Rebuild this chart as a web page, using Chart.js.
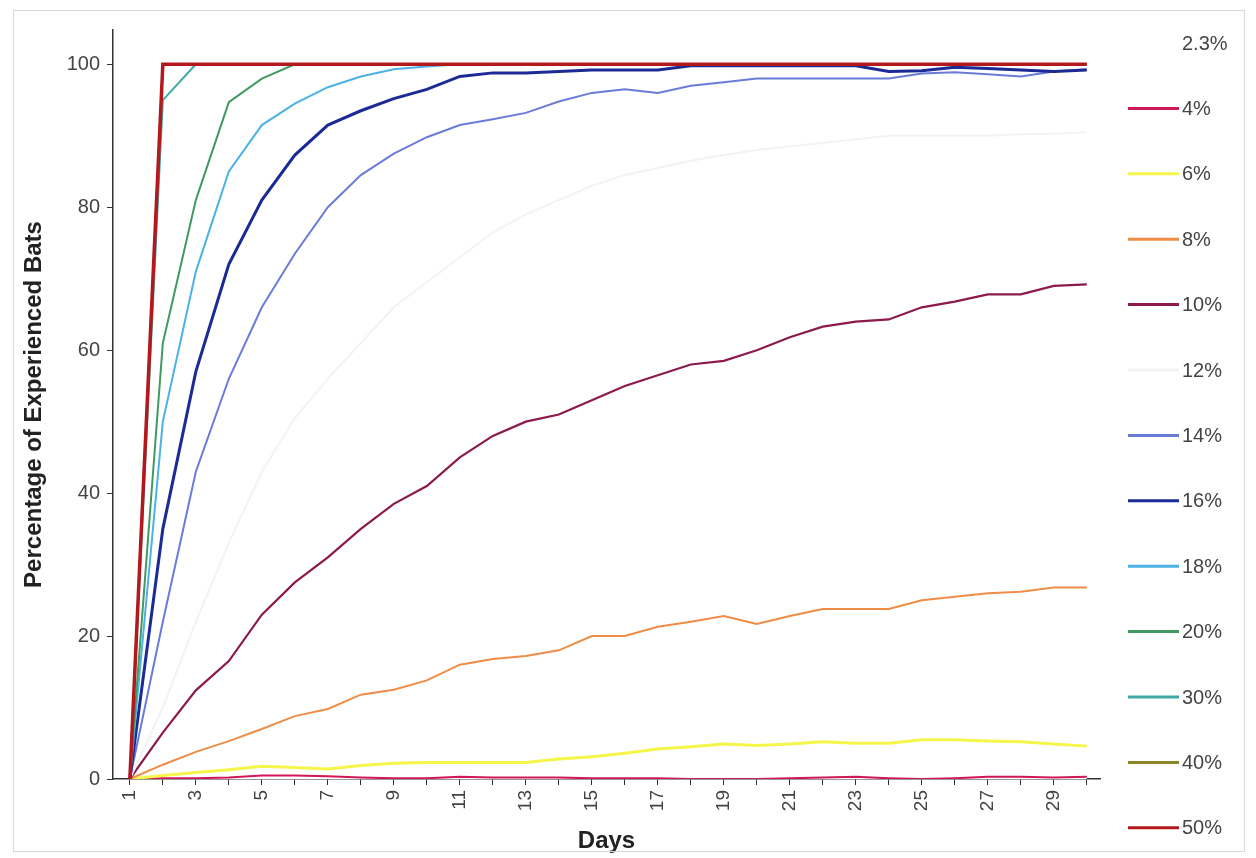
<!DOCTYPE html>
<html>
<head>
<meta charset="utf-8">
<script src="https://cdn.jsdelivr.net/npm/chart.js@4/dist/chart.umd.min.js"></script>
<style>
  html, body { margin: 0; padding: 0; background: #ffffff; }
  #wrap { position: relative; width: 1256px; height: 858px; }
  canvas { display: block; }
</style>
</head>
<body>
<div id="wrap"><canvas id="c" width="1256" height="858"></canvas></div>
<script>
// ---- Data ----
const days = [1,2,3,4,5,6,7,8,9,10,11,12,13,14,15,16,17,18,19,20,21,22,23,24,25,26,27,28,29,30];
const xTickLabels = [1,3,5,7,9,11,13,15,17,19,21,23,25,27,29];
const yTickLabels = [0,20,40,60,80,100];
const seriesNames = ['2.3%','4%','6%','8%','10%','12%','14%','16%','18%','20%','30%','40%','50%'];

const s2_3 = [0,0,0,0,0,0,0,0,0,0,0,0,0,0,0,0,0,0,0,0,0,0,0,0,0,0,0,0,0,0];
const s4   = [0,0.1,0.1,0.2,0.5,0.5,0.4,0.2,0.1,0.1,0.3,0.2,0.2,0.2,0.1,0.1,0.1,0,0,0,0.1,0.2,0.3,0.1,0,0.1,0.3,0.3,0.2,0.3];
const s6   = [0,0.5,0.9,1.3,1.8,1.6,1.4,1.9,2.2,2.3,2.3,2.3,2.3,2.8,3.1,3.6,4.2,4.5,4.9,4.7,4.9,5.2,5.0,5.0,5.5,5.5,5.3,5.2,4.9,4.6];
const s8   = [0,2,3.8,5.3,7,8.8,9.8,11.8,12.5,13.8,16,16.8,17.2,18,20,20,21.3,22,22.8,21.7,22.8,23.8,23.8,23.8,25,25.5,26,26.2,26.8,26.8];
const s10  = [0,6.5,12.4,16.5,23,27.5,31,35,38.5,41,45,48,50,51,53,55,56.5,58,58.5,60,61.8,63.3,64,64.3,66,66.8,67.8,67.8,69,69.2];
const s12  = [0,10,22,33,43,50.5,56,61,66,69.5,73,76.5,79,81,83,84.5,85.5,86.5,87.3,88,88.5,89,89.5,90,90,90,90,90.2,90.3,90.5];
const s14  = [0,22,43,56,66,73.5,80,84.5,87.5,89.8,91.5,92.3,93.2,94.8,96,96.5,96,97,97.5,98,98,98,98,98,98.7,98.9,98.6,98.3,99,99.3];
const s16  = [0,35,57,72,81,87.3,91.5,93.5,95.2,96.5,98.3,98.8,98.8,99,99.2,99.2,99.2,99.8,99.8,99.8,99.8,99.8,99.8,99,99.1,99.6,99.4,99.2,99,99.2];
const s18  = [0,50,71,85,91.5,94.5,96.8,98.3,99.3,99.7,100,100,100,100,100,100,100,100,100,100,100,100,100,100,100,100,100,100,100,100];
const s20  = [0,61,81,94.7,98,100,100,100,100,100,100,100,100,100,100,100,100,100,100,100,100,100,100,100,100,100,100,100,100,100];
const s30  = [0,95,100,100,100,100,100,100,100,100,100,100,100,100,100,100,100,100,100,100,100,100,100,100,100,100,100,100,100,100];
const s40  = [0,100,100,100,100,100,100,100,100,100,100,100,100,100,100,100,100,100,100,100,100,100,100,100,100,100,100,100,100,100];
const s50  = [0,100,100,100,100,100,100,100,100,100,100,100,100,100,100,100,100,100,100,100,100,100,100,100,100,100,100,100,100,100];

const seriesValues = [s2_3, s4, s6, s8, s10, s12, s14, s16, s18, s20, s30, s40, s50];
const seriesColors = ['#ffffff','#d0175a','#f6f64a','#ef8c45','#8c1a4c','#f3f3f3','#6a7bd8','#1b2a94','#4cb2e6','#3f9a62','#3fa9a6','#8a8526','#b3181c'];
const seriesWidths = [2,2,3,2,2.2,2,2,3,2,2,2,2,3.5];

const FONT = '"Liberation Sans", Arial, sans-serif';

const datasets = seriesNames.map((name, i) => ({
  label: name,
  data: days.map((d, j) => ({ x: d, y: seriesValues[i][j] })),
  borderColor: seriesColors[i],
  backgroundColor: seriesColors[i],
  borderWidth: seriesWidths[i],
  pointRadius: 0,
  tension: 0,
  fill: false,
  order: seriesNames.length - i
}));

const legendPlugin = {
  id: 'sideLegend',
  afterDraw(chart) {
    const ctx = chart.ctx;
    ctx.save();
    const top = 43, step = 65.4;
    chart.data.datasets.forEach((ds, i) => {
      const y = top + i * step;
      ctx.strokeStyle = ds.borderColor;
      ctx.lineWidth = 3;
      ctx.beginPath();
      ctx.moveTo(1128, y);
      ctx.lineTo(1179, y);
      ctx.stroke();
      ctx.fillStyle = '#444444';
      ctx.font = '20px ' + FONT;
      ctx.textAlign = 'left';
      ctx.textBaseline = 'middle';
      ctx.fillText(ds.label, 1182, y + 1);
    });
    // faint outer frame of the original figure
    ctx.strokeStyle = '#d9d9d9';
    ctx.lineWidth = 1;
    ctx.strokeRect(13.5, 10.5, 1231, 841);
    ctx.restore();
  }
};

new Chart(document.getElementById('c'), {
  type: 'line',
  data: { datasets },
  plugins: [legendPlugin],
  options: {
    responsive: false,
    animation: false,
    devicePixelRatio: 1,
    layout: { padding: { left: 0, top: 30, right: 156, bottom: 0 } },
    plugins: { legend: { display: false }, tooltip: { enabled: false } },
    scales: {
      x: {
        type: 'linear',
        min: 0.49,
        max: 30.4,
        afterBuildTicks(scale) { scale.ticks = days.map(v => ({ value: v })); },
        afterFit(scale) { scale.height = 79; },
        grid: { display: true, drawOnChartArea: false, drawTicks: true, tickLength: 6, color: '#333333', lineWidth: 1 },
        border: { display: true, color: '#333333', width: 1.5 },
        ticks: {
          autoSkip: false,
          maxRotation: 90,
          minRotation: 90,
          padding: 5,
          color: '#444444',
          font: { family: FONT, size: 19 },
          callback: (v) => xTickLabels.includes(v) ? String(v) : ''
        },
        title: {
          display: true,
          text: 'Days',
          color: '#222222',
          font: { family: FONT, size: 24, weight: 'bold' },
          padding: { top: 0, bottom: 2 }
        }
      },
      y: {
        type: 'linear',
        min: 0,
        max: 104.8,
        afterBuildTicks(scale) { scale.ticks = yTickLabels.map(v => ({ value: v })); },
        afterFit(scale) { scale.width = 113; },
        grid: { display: true, drawOnChartArea: false, drawTicks: true, tickLength: 6, color: '#333333', lineWidth: 1 },
        border: { display: true, color: '#333333', width: 1.5 },
        ticks: {
          padding: 7,
          color: '#444444',
          font: { family: FONT, size: 20 }
        },
        title: {
          display: true,
          text: 'Percentage of Experienced Bats',
          color: '#222222',
          font: { family: FONT, size: 24, weight: 'bold' },
          padding: { top: 20, bottom: 0 }
        }
      }
    }
  }
});
</script>
</body>
</html>
